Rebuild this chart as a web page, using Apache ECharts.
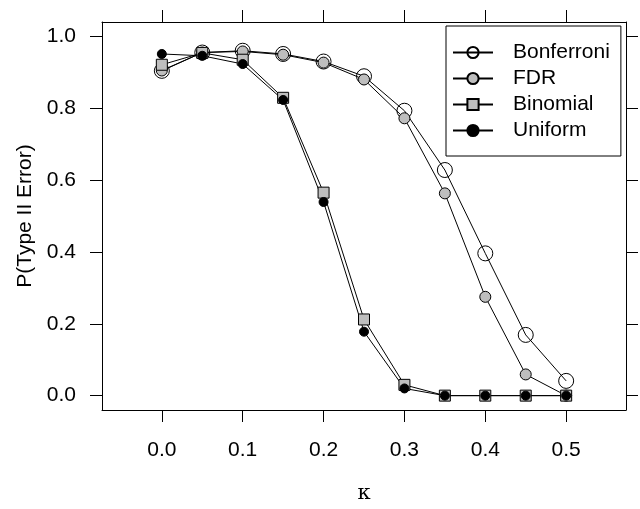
<!DOCTYPE html>
<html>
<head>
<meta charset="utf-8">
<script src="https://cdn.jsdelivr.net/npm/echarts@6/dist/echarts.min.js"></script>
<style>
html,body{margin:0;padding:0;background:#fff;}
#chart{width:640px;height:509px;}
</style>
</head>
<body>
<div id="chart"></div>
<script>
var kappa = [0, 0.05, 0.1, 0.15, 0.2, 0.25, 0.3, 0.35, 0.4, 0.45, 0.5];
var bonferroni = [0.904, 0.955, 0.960, 0.951, 0.930, 0.889, 0.793, 0.628, 0.396, 0.169, 0.041];
var fdr        = [0.905, 0.955, 0.958, 0.949, 0.927, 0.880, 0.772, 0.563, 0.275, 0.059, 0.0];
var binomial   = [0.921, 0.954, 0.935, 0.829, 0.565, 0.212, 0.030, 0.0, 0.0, 0.0, 0.0];
var uniform    = [0.951, 0.946, 0.923, 0.823, 0.539, 0.178, 0.020, 0.0, 0.0, 0.0, 0.0];
var xTicks = [0, 0.1, 0.2, 0.3, 0.4, 0.5];
var yTicks = [0, 0.2, 0.4, 0.6, 0.8, 1.0];
var seriesNames = ['Bonferroni', 'FDR', 'Binomial', 'Uniform'];

function pairs(ys) { return kappa.map(function (k, i) { return [k, ys[i]]; }); }

var FONT = 'Liberation Sans, Arial, sans-serif';
var axLine = { show: true, onZero: false, lineStyle: { color: '#000', width: 1 } };
var tickStyle = { color: '#000', width: 1 };
var fmt = function (v) { return Number(v).toFixed(1); };

var chart = echarts.init(document.getElementById('chart'), null, { renderer: 'canvas' });
chart.setOption({
  backgroundColor: '#fff',
  animation: false,
  grid: { left: 102, right: 14, top: 22, bottom: 94 },
  xAxis: [
    {
      type: 'value', position: 'bottom', min: -0.074, max: 0.574,
      axisLine: axLine,
      axisTick: { show: true, length: 12, customValues: xTicks, lineStyle: tickStyle },
      axisLabel: { show: true, customValues: xTicks, formatter: fmt, fontSize: 21, color: '#000', fontFamily: FONT, margin: 30 },
      splitLine: { show: false },
      name: 'κ', nameLocation: 'middle', nameGap: 73,
      nameTextStyle: { fontFamily: 'DejaVu Serif, Liberation Serif, serif', fontSize: 21, color: '#000' }
    },
    {
      type: 'value', position: 'top', min: -0.074, max: 0.574,
      axisLine: axLine,
      axisTick: { show: true, length: 12, customValues: xTicks, lineStyle: tickStyle },
      axisLabel: { show: false },
      splitLine: { show: false }
    }
  ],
  yAxis: [
    {
      type: 'value', position: 'left', min: -0.04, max: 1.04,
      axisLine: axLine,
      axisTick: { show: true, length: 12, customValues: yTicks, lineStyle: tickStyle },
      axisLabel: { show: true, customValues: yTicks, formatter: fmt, fontSize: 21, color: '#000', fontFamily: FONT, margin: 26 },
      splitLine: { show: false },
      name: 'P(Type II Error)', nameLocation: 'middle', nameGap: 64, nameRotate: 90,
      nameTextStyle: { fontFamily: FONT, fontSize: 21, color: '#000' }
    },
    {
      type: 'value', position: 'right', min: -0.04, max: 1.04,
      axisLine: axLine,
      axisTick: { show: true, length: 12, customValues: yTicks, lineStyle: tickStyle },
      axisLabel: { show: false },
      splitLine: { show: false }
    }
  ],
  legend: {
    orient: 'vertical', left: 446, top: 26,
    padding: [16, 11, 15, 6],
    itemWidth: 40, itemHeight: 14, itemGap: 5,
    borderColor: '#000', borderWidth: 1, borderRadius: 0,
    backgroundColor: '#fff',
    data: seriesNames,
    textStyle: { fontSize: 21, fontFamily: FONT, color: '#000', lineHeight: 21, padding: [0, 0, 0, 15] }
  },
  series: [
    {
      name: 'Bonferroni', type: 'line', data: pairs(bonferroni),
      symbol: 'circle', symbolSize: 15,
      lineStyle: { color: '#000', width: 1 },
      itemStyle: { color: 'rgba(255,255,255,0)', borderColor: '#000', borderWidth: 1 }
    },
    {
      name: 'FDR', type: 'line', data: pairs(fdr),
      symbol: 'circle', symbolSize: 11,
      lineStyle: { color: '#000', width: 1 },
      itemStyle: { color: '#bebebe', borderColor: '#000', borderWidth: 1 }
    },
    {
      name: 'Binomial', type: 'line', data: pairs(binomial),
      symbol: 'rect', symbolSize: 11,
      lineStyle: { color: '#000', width: 1 },
      itemStyle: { color: '#bebebe', borderColor: '#000', borderWidth: 1 }
    },
    {
      name: 'Uniform', type: 'line', data: pairs(uniform),
      symbol: 'circle', symbolSize: 9,
      lineStyle: { color: '#000', width: 1 },
      itemStyle: { color: '#000', borderColor: '#000', borderWidth: 1 }
    }
  ]
});
</script>
</body>
</html>
